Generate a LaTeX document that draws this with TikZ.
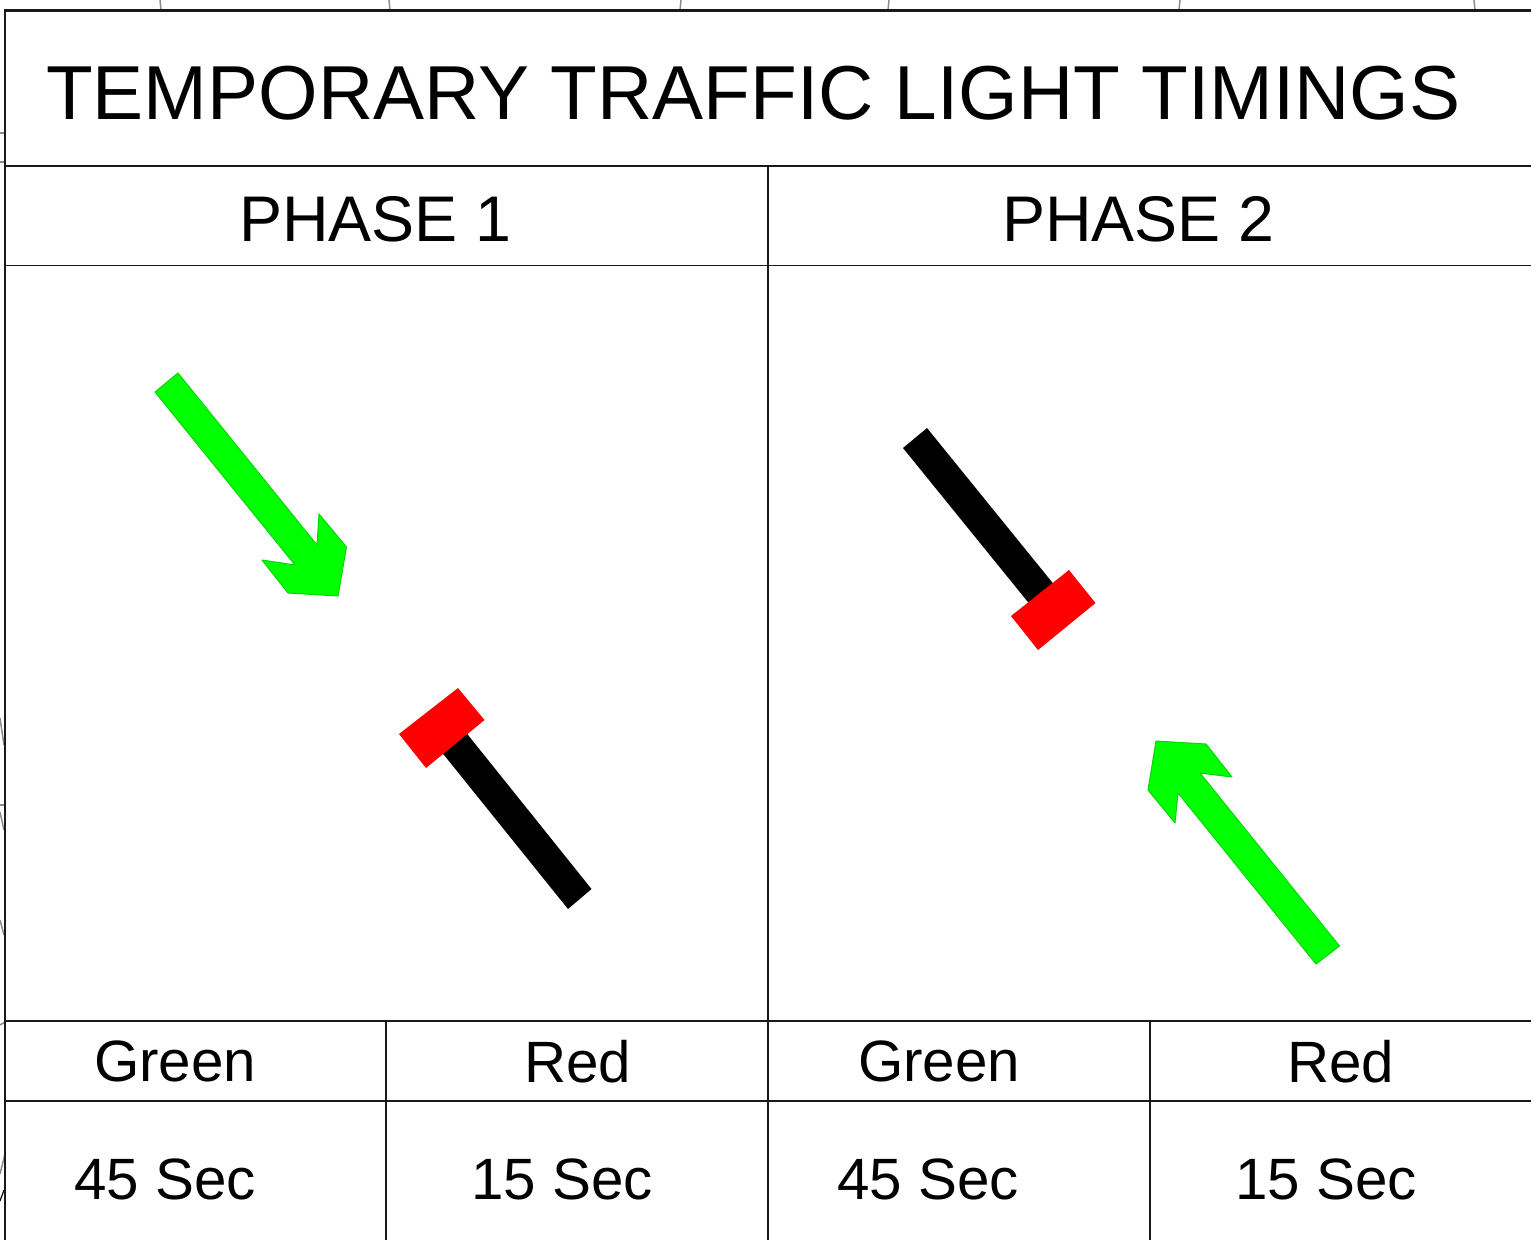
\documentclass[tikz,border=0pt]{standalone}
\usepackage{fontspec}
\setmainfont{Liberation Sans}
\tikzset{
  frame/.style={draw=black!90,line width=2.2pt},
  grid/.style={draw=black!90,line width=1.7pt},
  faint/.style={draw=black!45,line width=1.5pt},
  title/.style={inner sep=0pt,anchor=base west,font=\fontsize{76.5}{80}\selectfont},
  phase/.style={inner sep=0pt,anchor=base west,font=\fontsize{64.5}{70}\selectfont},
  cell/.style={inner sep=0pt,anchor=base west,font=\fontsize{58.3}{62}\selectfont},
  flow/.style={fill=green,draw=green!85!black,line width=1pt,line join=round},
  stem/.style={fill=black},
  stopbar/.style={fill=red}
}
\begin{document}
\begin{tikzpicture}[x=1pt,y=-1pt]
\useasboundingbox (0,0) rectangle (1531,1240);
\fill[white] (0,0) rectangle (1531,1240);
% faint background lines
\foreach \a/\b in {160/161,389/390,681/680,889/888,1180/1179,1474/1475}
  \draw[faint] (\a,0) -- (\b,10);
\draw[faint] (0,133) -- (5,133);
\draw[faint] (0,162) -- (5,162);
\draw[faint] (0,718) -- (4,745);
\draw[faint] (0,805) -- (5,805);
\draw[faint] (0,812) -- (4,830);
\draw[faint] (0,920) -- (4,935);
\draw[faint] (0,1025) -- (5,1022);
\draw[faint] (0,1174) -- (5,1154);
\draw[black,line width=1.2pt] (0,1201) -- (4,1190);
% table
\draw[frame] (1531,10.5) -- (5,10.5) -- (5,1240);
\draw[frame] (5,166) -- (1531,166);
\draw[grid] (5,265.5) -- (1531,265.5);
\draw[grid] (5,1021) -- (1531,1021);
\draw[grid] (5,1101) -- (1531,1101);
\draw[grid] (768,166) -- (768,1240);
\draw[grid] (386,1021) -- (386,1240);
\draw[grid] (1150,1021) -- (1150,1240);
% text
\node[title] (t) at (46,119) {TEMPORARY TRAFFIC LIGHT TIMINGS};
\node[phase] (p1) at (239,241) {PHASE 1};
\node[phase] (p2) at (1002,241) {PHASE 2};
\node[cell] (g1) at (94,1081.7) {Green};
\node[cell] (r1) at (524,1082.7) {Red};
\node[cell] (g2) at (858,1081.7) {Green};
\node[cell] (r2) at (1287,1082.7) {Red};
\node[cell] (s1) at (74,1199) {45 Sec};
\node[cell] (s2) at (471,1199) {15 Sec};
\node[cell] (s3) at (837,1199) {45 Sec};
\node[cell] (s4) at (1235,1199) {15 Sec};
% phase 1
\draw[flow] (155,392) -- (178,373) -- (317,545) -- (319,514) -- (346.5,547) -- (338,596) -- (288,593) -- (262,560) -- (295,565) -- cycle;
\fill[stem] (568,909) -- (591.5,889) -- (460,725) -- (436,745) -- cycle;
\fill[stopbar] (399,734) -- (458,688) -- (484.5,720) -- (426,768) -- cycle;
% phase 2
\fill[stem] (903,448) -- (927,428) -- (1060,592) -- (1036,612) -- cycle;
\fill[stopbar] (1011,616) -- (1069,570) -- (1095.5,603) -- (1038,650) -- cycle;
\draw[flow] (1339.5,946) -- (1316,964) -- (1178,793) -- (1175,823) -- (1148,790) -- (1156,741) -- (1206,744) -- (1232,777) -- (1200,773) -- cycle;
\end{tikzpicture}
\end{document}
